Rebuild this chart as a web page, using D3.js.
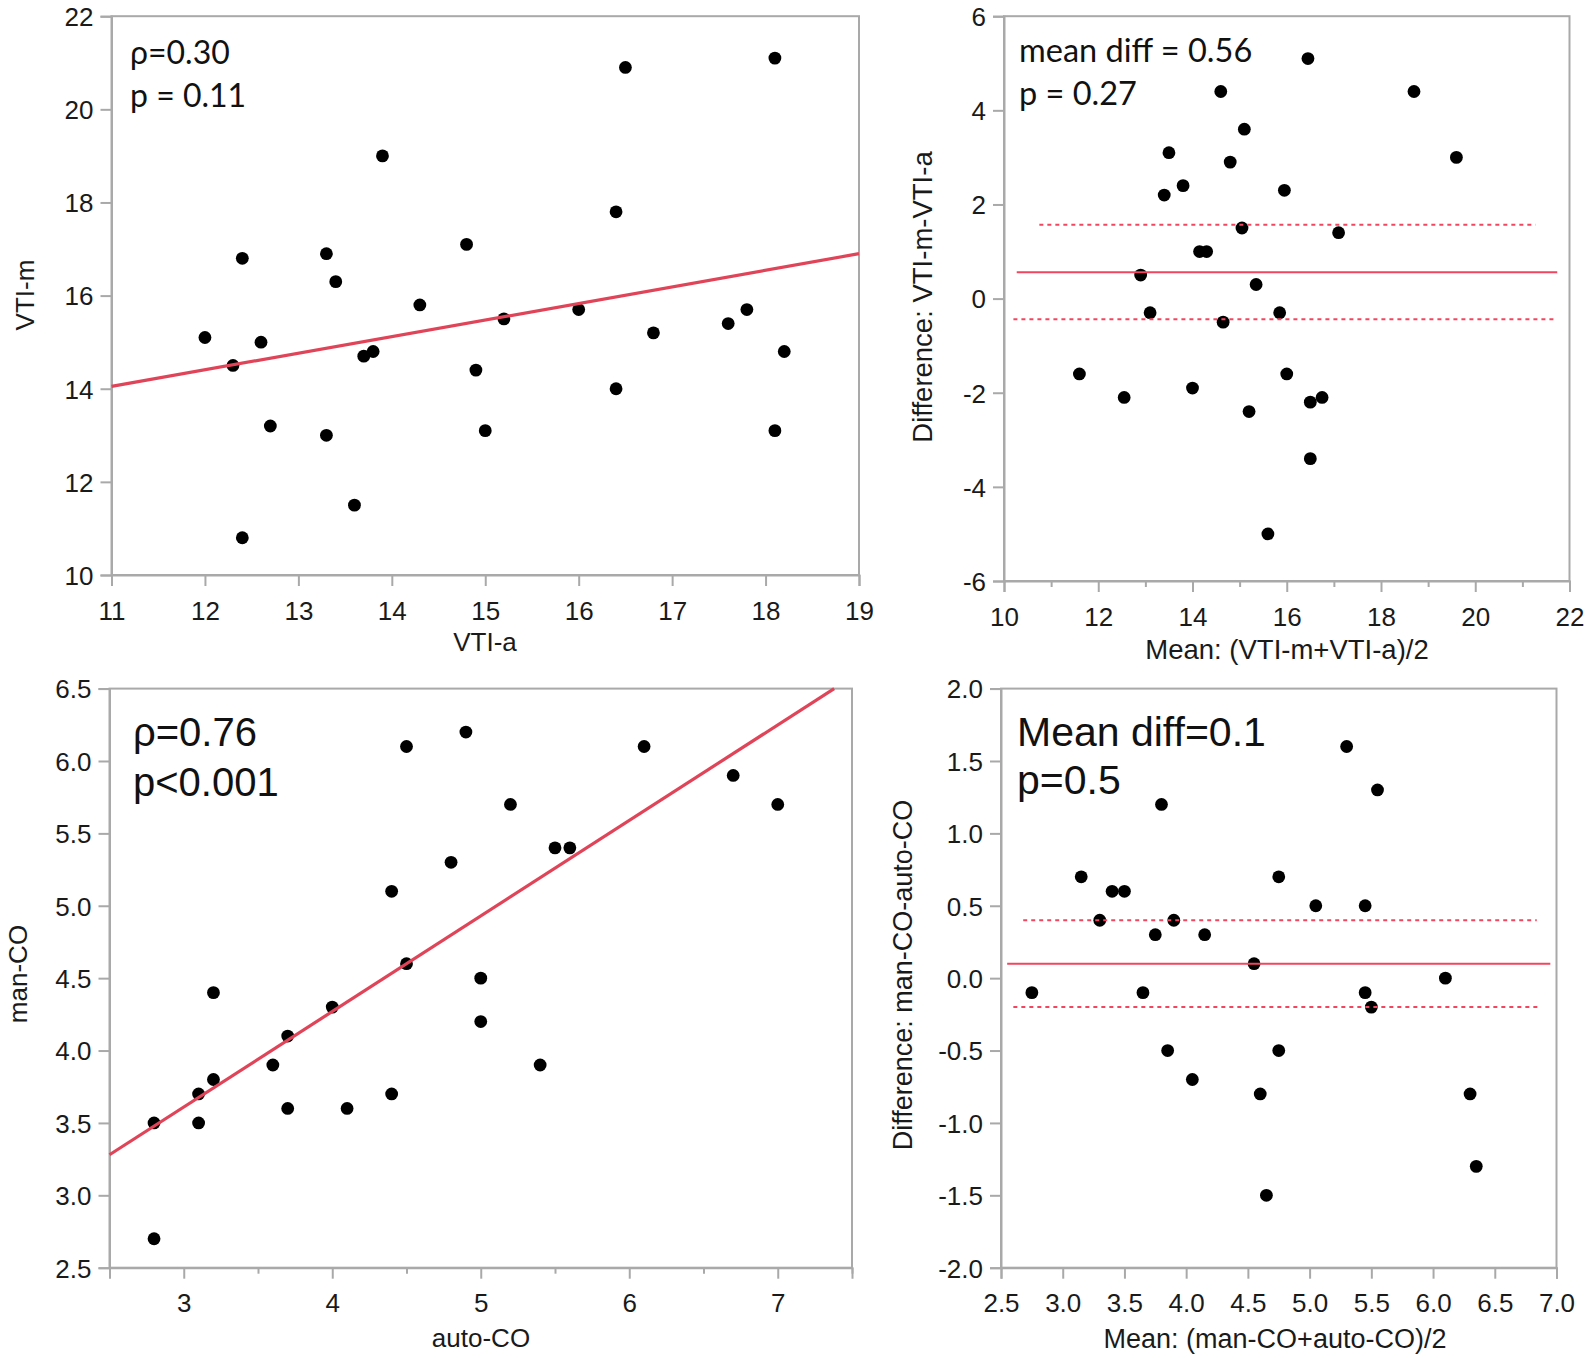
<!DOCTYPE html>
<html><head><meta charset="utf-8">
<script src="https://cdn.jsdelivr.net/npm/d3@7"></script>
<style>
html,body{margin:0;padding:0;background:#fff;}
svg{display:block;}
</style></head>
<body>
<svg id="chart" width="1590" height="1358"></svg>
<script>
// ---------- DATA ----------
// Panel A: VTI scatter
const vtiA = [12.0,12.3,12.4,12.6,12.7,12.4,13.3,13.4,13.3,13.6,13.7,13.8,13.9,14.3,14.8,14.9,15.0,15.2,16.0,16.4,16.4,16.5,16.8,17.6,17.8,18.1,18.1,18.2];
const vtiM = [15.1,14.5,16.8,15.0,13.2,10.8,16.9,16.3,13.0,11.5,14.7,14.8,19.0,15.8,17.1,14.4,13.1,15.5,15.7,17.8,14.0,20.9,15.2,15.4,15.7,21.1,13.1,14.8];
const vtiFitX = [11, 19];
const vtiFitY = [14.05, 16.9];
const vtiXTicks = [11,12,13,14,15,16,17,18,19];
const vtiYTicks = [10,12,14,16,18,20,22];

// Panel B: VTI Bland-Altman
const vtiMean = [11.6,12.55,12.9,13.1,13.4,13.5,13.8,14.0,14.15,14.3,14.6,14.65,14.8,15.05,15.1,15.2,15.35,15.6,15.85,15.95,16.0,16.45,16.5,16.5,16.75,17.1,18.7,19.6];
const vtiDiff = [-1.6,-2.1,0.5,-0.3,2.2,3.1,2.4,-1.9,1.0,1.0,4.4,-0.5,2.9,1.5,3.6,-2.4,0.3,-5.0,-0.3,2.3,-1.6,5.1,-2.2,-3.4,-2.1,1.4,4.4,3.0];
const vtiBAMean = {y: 0.56, x: [10.27, 21.74]};
const vtiBAUpper = {y: 1.57, x: [10.75, 21.28]};
const vtiBALower = {y: -0.44, x: [10.2, 21.74]};
const vtiBAXTicks = [10,12,14,16,18,20,22];
const vtiBAXMinor = [11,13,15,17,19,21];
const vtiBAYTicks = [-6,-4,-2,0,2,4,6];

// Panel C: CO scatter
const autoCO = [2.8,2.8,3.1,3.1,3.2,3.2,3.6,3.7,3.7,4.0,4.1,4.4,4.4,4.5,4.5,4.8,4.9,5.0,5.0,5.2,5.4,5.5,5.6,6.1,6.7,7.0];
const manCO  = [3.5,2.7,3.7,3.5,3.8,4.4,3.9,4.1,3.6,4.3,3.6,5.1,3.7,6.1,4.6,5.3,6.2,4.5,4.2,5.7,3.9,5.4,5.4,6.1,5.9,5.7];
const coFitX = [2.5, 7.38];
const coFitY = [3.28, 6.5];
const coXTicks = [3,4,5,6,7];
const coXMinor = [2.5,3.5,4.5,5.5,6.5,7.5];
const coYTicks = [2.5,3.0,3.5,4.0,4.5,5.0,5.5,6.0,6.5];

// Panel D: CO Bland-Altman
const coMean = [2.75,3.15,3.3,3.4,3.5,3.65,3.75,3.8,3.85,3.9,4.05,4.15,4.55,4.6,4.65,4.75,4.75,5.05,5.3,5.45,5.45,5.5,5.55,6.1,6.3,6.35];
const coDiff = [-0.1,0.7,0.4,0.6,0.6,-0.1,0.3,1.2,-0.5,0.4,-0.7,0.3,0.1,-0.8,-1.5,0.7,-0.5,0.5,1.6,0.5,-0.1,-0.2,1.3,0.0,-0.8,-1.3];
const coBAMean = {y: 0.1, x: [2.55, 6.95]};
const coBAUpper = {y: 0.4, x: [2.68, 6.84]};
const coBALower = {y: -0.2, x: [2.6, 6.86]};
const coBAXTicks = [2.5,3.0,3.5,4.0,4.5,5.0,5.5,6.0,6.5,7.0];
const coBAYTicks = [-2.0,-1.5,-1.0,-0.5,0.0,0.5,1.0,1.5,2.0];

// ---------- DRAW ----------
const svg = d3.select('#chart');
const AXIS = '#a9a9a9';
const RED = '#e04458';
const BARED = '#f2455f';
const TICKFONT = 'Liberation Sans, Arial, sans-serif';
const fmtInt = d => d3.format('d')(d).replace('\u2212', '-');
const fmt1 = d => d3.format('.1f')(d).replace('\u2212', '-');

function panel(o) {
  const x = d3.scaleLinear().domain(o.xDomain).range([o.left, o.right]);
  const y = d3.scaleLinear().domain(o.yDomain).range([o.bottom, o.top]);
  const g = svg.append('g');

  g.append('rect').attr('x', o.left).attr('y', o.top)
    .attr('width', o.right - o.left).attr('height', o.bottom - o.top)
    .attr('fill', 'none').attr('stroke', AXIS).attr('stroke-width', 2);

  if (o.xMinor) {
    g.append('g').attr('transform', `translate(0,${o.bottom})`)
      .call(d3.axisBottom(x).tickValues(o.xMinor).tickSize(6).tickFormat(''))
      .call(s => s.select('.domain').remove())
      .call(s => s.selectAll('line').attr('stroke', AXIS).attr('stroke-width', 2));
  }
  const xa = g.append('g').attr('transform', `translate(0,${o.bottom})`)
    .call(d3.axisBottom(x).tickValues(o.xTicks).tickSize(11).tickFormat(o.xFmt || fmtInt));
  xa.select('.domain').attr('stroke', AXIS).attr('stroke-width', 2);
  xa.selectAll('line').attr('stroke', AXIS).attr('stroke-width', 2);
  xa.selectAll('text').attr('y', o.xLabOff).attr('dy', null)
    .attr('fill', '#1a1a1a').style('font-family', TICKFONT).style('font-size', o.tickFont + 'px');

  const ya = g.append('g').attr('transform', `translate(${o.left},0)`)
    .call(d3.axisLeft(y).tickValues(o.yTicks).tickSize(11).tickPadding(7).tickFormat(o.yFmt || fmtInt));
  ya.select('.domain').attr('stroke', AXIS).attr('stroke-width', 2);
  ya.selectAll('line').attr('stroke', AXIS).attr('stroke-width', 2);
  ya.selectAll('text').attr('dy', '0.36em')
    .attr('fill', '#1a1a1a').style('font-family', TICKFONT).style('font-size', o.tickFont + 'px');

  g.append('text').attr('x', o.xTitlePos[0]).attr('y', o.xTitlePos[1])
    .attr('text-anchor', 'middle').attr('fill', '#1a1a1a')
    .style('font-family', TICKFONT).style('font-size', o.titleFont + 'px').text(o.xTitle);
  g.append('text').attr('transform', `translate(${o.yTitlePos[0]},${o.yTitlePos[1]}) rotate(-90)`)
    .attr('text-anchor', 'middle').attr('dy', '0.35em').attr('fill', '#1a1a1a')
    .style('font-family', TICKFONT).style('font-size', o.titleFont + 'px').text(o.yTitle);

  g.append('g').selectAll('circle').data(o.xs.map((v, i) => [v, o.ys[i]])).join('circle')
    .attr('cx', d => x(d[0])).attr('cy', d => y(d[1])).attr('r', 6.4).attr('fill', '#000');

  if (o.fit) {
    g.append('line').attr('x1', x(o.fit.x[0])).attr('y1', y(o.fit.y[0]))
      .attr('x2', x(o.fit.x[1])).attr('y2', y(o.fit.y[1]))
      .attr('stroke', RED).attr('stroke-width', 3.2);
  }
  if (o.ba) {
    const drawH = (l, dash) => g.append('line')
      .attr('x1', x(l.x[0])).attr('x2', x(l.x[1])).attr('y1', y(l.y)).attr('y2', y(l.y))
      .attr('stroke', BARED).attr('stroke-width', 2)
      .attr('stroke-dasharray', dash ? '4,4' : null);
    drawH(o.ba[0], false);
    drawH(o.ba[1], true);
    drawH(o.ba[2], true);
  }

  o.notes.forEach(n => {
    g.append('text').attr('x', n.x).attr('y', n.y).attr('fill', '#111')
      .style('font-family', n.font).style('font-size', n.size + 'px').text(n.text);
  });
}

const CAL = 'Lato, Open Sans, sans-serif';

panel({
  xDomain: [11, 19], yDomain: [10, 22],
  left: 111.5, right: 859, top: 16.2, bottom: 575,
  xTicks: vtiXTicks, yTicks: vtiYTicks, tickFont: 26, titleFont: 26,
  xLabOff: 45,
  xTitle: 'VTI-a', xTitlePos: [485, 651],
  yTitle: 'VTI-m', yTitlePos: [25, 295],
  xs: vtiA, ys: vtiM,
  fit: {x: vtiFitX, y: vtiFitY},
  notes: [
    {text: 'ρ=0.30', x: 130, y: 64, font: CAL, size: 32},
    {text: 'p = 0.11', x: 130, y: 106.5, font: CAL, size: 32}
  ]
});

panel({
  xDomain: [10, 22], yDomain: [-6, 6],
  left: 1004, right: 1569.5, top: 16.2, bottom: 581,
  xTicks: vtiBAXTicks, xMinor: vtiBAXMinor, yTicks: vtiBAYTicks, tickFont: 26, titleFont: 27.5,
  xLabOff: 45,
  xTitle: 'Mean: (VTI-m+VTI-a)/2', xTitlePos: [1287, 659],
  yTitle: 'Difference: VTI-m-VTI-a', yTitlePos: [922, 297],
  xs: vtiMean, ys: vtiDiff,
  ba: [vtiBAMean, vtiBAUpper, vtiBALower],
  notes: [
    {text: 'mean diff = 0.56', x: 1019, y: 62, font: CAL, size: 32.5},
    {text: 'p = 0.27', x: 1019, y: 104.5, font: CAL, size: 32.5}
  ]
});

panel({
  xDomain: [2.5, 7.5], yDomain: [2.5, 6.5],
  left: 109.5, right: 852, top: 688.6, bottom: 1267.7,
  xTicks: coXTicks, xMinor: coXMinor, yTicks: coYTicks, tickFont: 26, titleFont: 26,
  yFmt: fmt1,
  xLabOff: 44,
  xTitle: 'auto-CO', xTitlePos: [481, 1347],
  yTitle: 'man-CO', yTitlePos: [18, 974],
  xs: autoCO, ys: manCO,
  fit: {x: coFitX, y: coFitY},
  notes: [
    {text: 'ρ=0.76', x: 133, y: 745.5, font: TICKFONT, size: 40},
    {text: 'p<0.001', x: 133, y: 796, font: TICKFONT, size: 40}
  ]
});

panel({
  xDomain: [2.5, 7.0], yDomain: [-2.0, 2.0],
  left: 1001, right: 1556.5, top: 688.6, bottom: 1267.7,
  xTicks: coBAXTicks, yTicks: coBAYTicks, tickFont: 26, titleFont: 27,
  xFmt: fmt1, yFmt: fmt1,
  xLabOff: 44,
  xTitle: 'Mean: (man-CO+auto-CO)/2', xTitlePos: [1275, 1348],
  yTitle: 'Difference: man-CO-auto-CO', yTitlePos: [903, 975],
  xs: coMean, ys: coDiff,
  ba: [coBAMean, coBAUpper, coBALower],
  notes: [
    {text: 'Mean diff=0.1', x: 1017, y: 745.5, font: TICKFONT, size: 41},
    {text: 'p=0.5', x: 1017, y: 794, font: TICKFONT, size: 41}
  ]
});
</script>
</body></html>
